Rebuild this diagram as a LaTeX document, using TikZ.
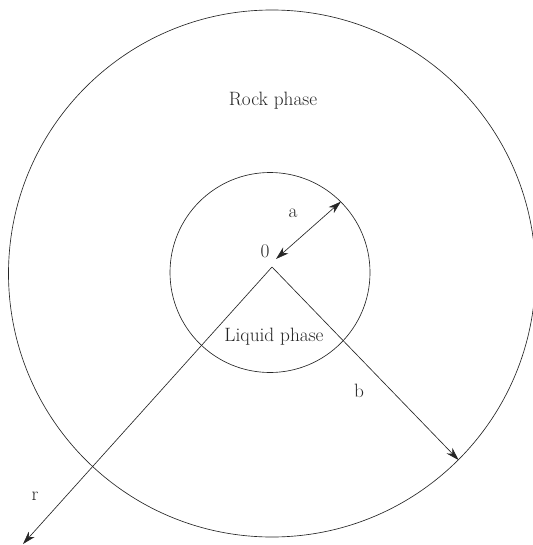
\documentclass[tikz,border=0pt]{standalone}
\usetikzlibrary{arrows.meta}
\begin{document}
\begin{tikzpicture}[x=1pt,y=-1pt,
  ring/.style={circle,draw=black!85,line width=0.65pt,inner sep=0pt},
  lbl/.style={font=\fontsize{19.3}{22}\selectfont,inner sep=0pt,text=black!85},
  arr/.style={draw=black!85,line width=0.65pt,-{Stealth[length=13pt,width=8pt,inset=4pt]}},
  darr/.style={draw=black!85,line width=0.65pt,{Stealth[length=13pt,width=8pt,inset=4pt]}-{Stealth[length=13pt,width=8pt,inset=4pt]}}]
\useasboundingbox (0,0) rectangle (532,545);
\node[ring,minimum size=527pt] (outer) at (272,273.5) {};
\node[ring,minimum size=200pt] (inner) at (270,272.5) {};
\coordinate (O) at (272,267);
\coordinate (a0) at (276,259);
\coordinate (rtip) at (23,544);
\draw[darr] (a0) -- (inner.45);
\draw[arr] (O) -- (outer.-45.2);
\draw[arr] (O) -- (rtip);
\node[lbl] (rock) at (273,101) {Rock phase};
\node[lbl] (liquid) at (274,337) {Liquid phase};
\node[lbl] (la) at (293,213) {a};
\node[lbl] (l0) at (265,251) {0};
\node[lbl] (lb) at (359,391) {b};
\node[lbl] (lr) at (35,496) {r};
\end{tikzpicture}
\end{document}
